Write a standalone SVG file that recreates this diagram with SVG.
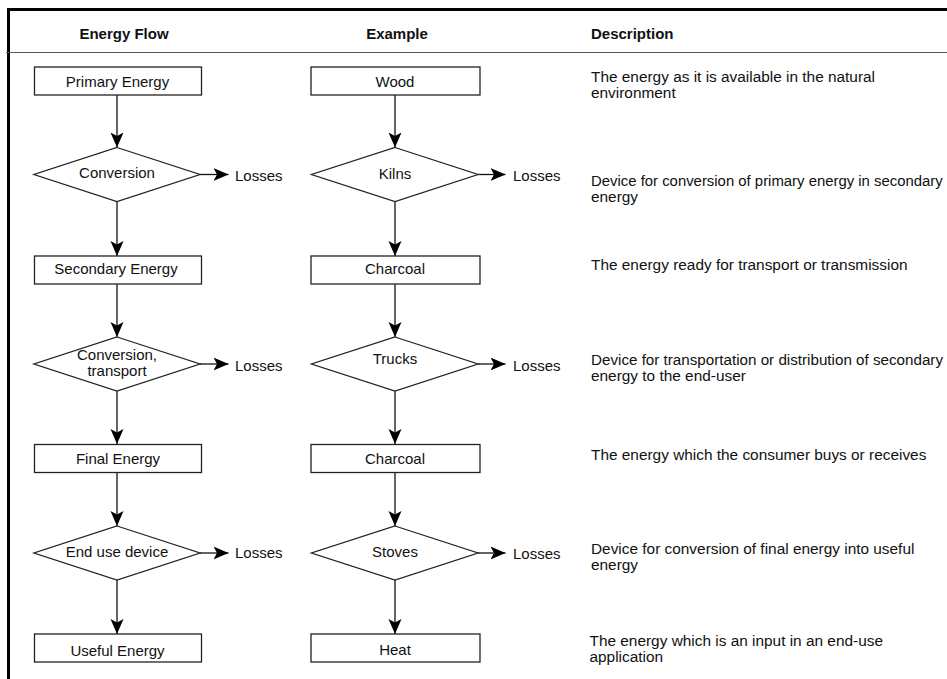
<svg xmlns="http://www.w3.org/2000/svg" width="947" height="679" viewBox="0 0 947 679">
<style>
  .t { font-family: "Liberation Sans", Arial, sans-serif; font-size: 15px; fill: #111; }
  .d { font-family: "Liberation Sans", Arial, sans-serif; font-size: 15.4px; fill: #111; }
  .h { font-family: "Liberation Sans", Arial, sans-serif; font-size: 15px; font-weight: bold; fill: #111; }
  .c { text-anchor: middle; }
  .box { fill: #fff; stroke: #222; stroke-width: 1.3; }
  .dia { fill: #fff; stroke: #222; stroke-width: 1.3; }
  .ln { stroke: #111; stroke-width: 1.3; fill: none; marker-end: url(#ah); }
</style>
<defs>
  <marker id="ah" markerUnits="userSpaceOnUse" markerWidth="16" markerHeight="14" refX="15" refY="6.5" orient="auto">
    <path d="M0,0 L15,6.5 L0,13 L3.5,6.5 Z" fill="#000"/>
  </marker>
</defs>
<rect width="947" height="679" fill="#fff"/>
<g id="frame">
  <line x1="7" y1="9.5" x2="947" y2="9.5" stroke="#000" stroke-width="3"/>
  <line x1="8.5" y1="8" x2="8.5" y2="679" stroke="#000" stroke-width="3"/>
  <line x1="6" y1="52.5" x2="947" y2="52.5" stroke="#555" stroke-width="1.2"/>
</g>
<g id="headers">
  <text class="h c" x="124" y="38.5">Energy Flow</text>
  <text class="h c" x="397" y="38.5">Example</text>
  <text class="h" x="591" y="38.5">Description</text>
</g>
<g id="connectors">
  <line class="ln" x1="117" y1="95" x2="117" y2="147.5"/>
  <line class="ln" x1="117" y1="201.5" x2="117" y2="256"/>
  <line class="ln" x1="117" y1="284" x2="117" y2="337"/>
  <line class="ln" x1="117" y1="391" x2="117" y2="444"/>
  <line class="ln" x1="117" y1="472" x2="117" y2="526"/>
  <line class="ln" x1="117" y1="580" x2="117" y2="634"/>
  <line class="ln" x1="395" y1="95" x2="395" y2="147.5"/>
  <line class="ln" x1="395" y1="201.5" x2="395" y2="256"/>
  <line class="ln" x1="395" y1="284" x2="395" y2="337"/>
  <line class="ln" x1="395" y1="391" x2="395" y2="444"/>
  <line class="ln" x1="395" y1="472" x2="395" y2="526"/>
  <line class="ln" x1="395" y1="580" x2="395" y2="634"/>
  <line class="ln" x1="200" y1="174.5" x2="228.5" y2="174.5"/>
  <line class="ln" x1="200" y1="364" x2="228.5" y2="364"/>
  <line class="ln" x1="200" y1="553" x2="228.5" y2="553"/>
  <line class="ln" x1="478" y1="174.5" x2="505.5" y2="174.5"/>
  <line class="ln" x1="478" y1="364" x2="505.5" y2="364"/>
  <line class="ln" x1="478" y1="553" x2="505.5" y2="553"/>
</g>
<g id="primary-energy">
  <rect class="box" x="34.5" y="67" width="167" height="28"/>
  <text class="t c" x="117.5" y="87">Primary Energy</text>
</g>
<g id="conversion">
  <polygon class="dia" points="117,147.5 200,174.5 117,201.5 34,174.5"/>
  <text class="t c" x="117" y="178">Conversion</text>
</g>
<g id="losses-1"><text class="t" x="235" y="181">Losses</text></g>
<g id="secondary-energy">
  <rect class="box" x="34.5" y="256" width="167" height="28"/>
  <text class="t c" x="116" y="274">Secondary Energy</text>
</g>
<g id="conversion-transport">
  <polygon class="dia" points="117,337 200,364 117,391 34,364"/>
  <text class="t c" x="117" y="360">Conversion,</text>
  <text class="t c" x="117" y="376">transport</text>
</g>
<g id="losses-2"><text class="t" x="235" y="370.5">Losses</text></g>
<g id="final-energy">
  <rect class="box" x="34.5" y="444.5" width="167" height="28"/>
  <text class="t c" x="118" y="464">Final Energy</text>
</g>
<g id="end-use-device">
  <polygon class="dia" points="117,526 200,553 117,580 34,553"/>
  <text class="t c" x="117" y="557">End use device</text>
</g>
<g id="losses-3"><text class="t" x="235" y="558">Losses</text></g>
<g id="useful-energy">
  <rect class="box" x="34.5" y="634" width="167" height="28"/>
  <text class="t c" x="117.5" y="655.5">Useful Energy</text>
</g>
<g id="wood">
  <rect class="box" x="311" y="67" width="169" height="28"/>
  <text class="t c" x="395" y="86.5">Wood</text>
</g>
<g id="kilns">
  <polygon class="dia" points="395,147.5 478,174.5 395,201.5 311.5,174.5"/>
  <text class="t c" x="395" y="178.5">Kilns</text>
</g>
<g id="losses-4"><text class="t" x="513" y="180.5">Losses</text></g>
<g id="charcoal-1">
  <rect class="box" x="311" y="256" width="169" height="28"/>
  <text class="t c" x="395" y="273.5">Charcoal</text>
</g>
<g id="trucks">
  <polygon class="dia" points="395,337 478,364 395,391 311.5,364"/>
  <text class="t c" x="395" y="363.5">Trucks</text>
</g>
<g id="losses-5"><text class="t" x="513" y="370.5">Losses</text></g>
<g id="charcoal-2">
  <rect class="box" x="311" y="444.5" width="169" height="28"/>
  <text class="t c" x="395" y="463.5">Charcoal</text>
</g>
<g id="stoves">
  <polygon class="dia" points="395,526 478,553 395,580 311.5,553"/>
  <text class="t c" x="395" y="557">Stoves</text>
</g>
<g id="losses-6"><text class="t" x="513" y="559">Losses</text></g>
<g id="heat">
  <rect class="box" x="311" y="634" width="169" height="28"/>
  <text class="t c" x="395" y="654.5">Heat</text>
</g>
<g id="descriptions">
  <text class="d" x="591" y="81.5">The energy as it is available in the natural</text>
  <text class="d" x="591" y="97.5">environment</text>
  <text class="d" x="591" y="185.5" style="font-size:14.9px">Device for conversion of primary energy in secondary</text>
  <text class="d" x="591" y="201.5">energy</text>
  <text class="d" x="591" y="270">The energy ready for transport or transmission</text>
  <text class="d" x="591" y="365" style="font-size:15.2px">Device for transportation or distribution of secondary</text>
  <text class="d" x="591" y="381">energy to the end-user</text>
  <text class="d" x="591" y="460">The energy which the consumer buys or receives</text>
  <text class="d" x="591" y="554">Device for conversion of final energy into useful</text>
  <text class="d" x="591" y="570">energy</text>
  <text class="d" x="589.5" y="646">The energy which is an input in an end-use</text>
  <text class="d" x="589.5" y="662">application</text>
</g>
</svg>
